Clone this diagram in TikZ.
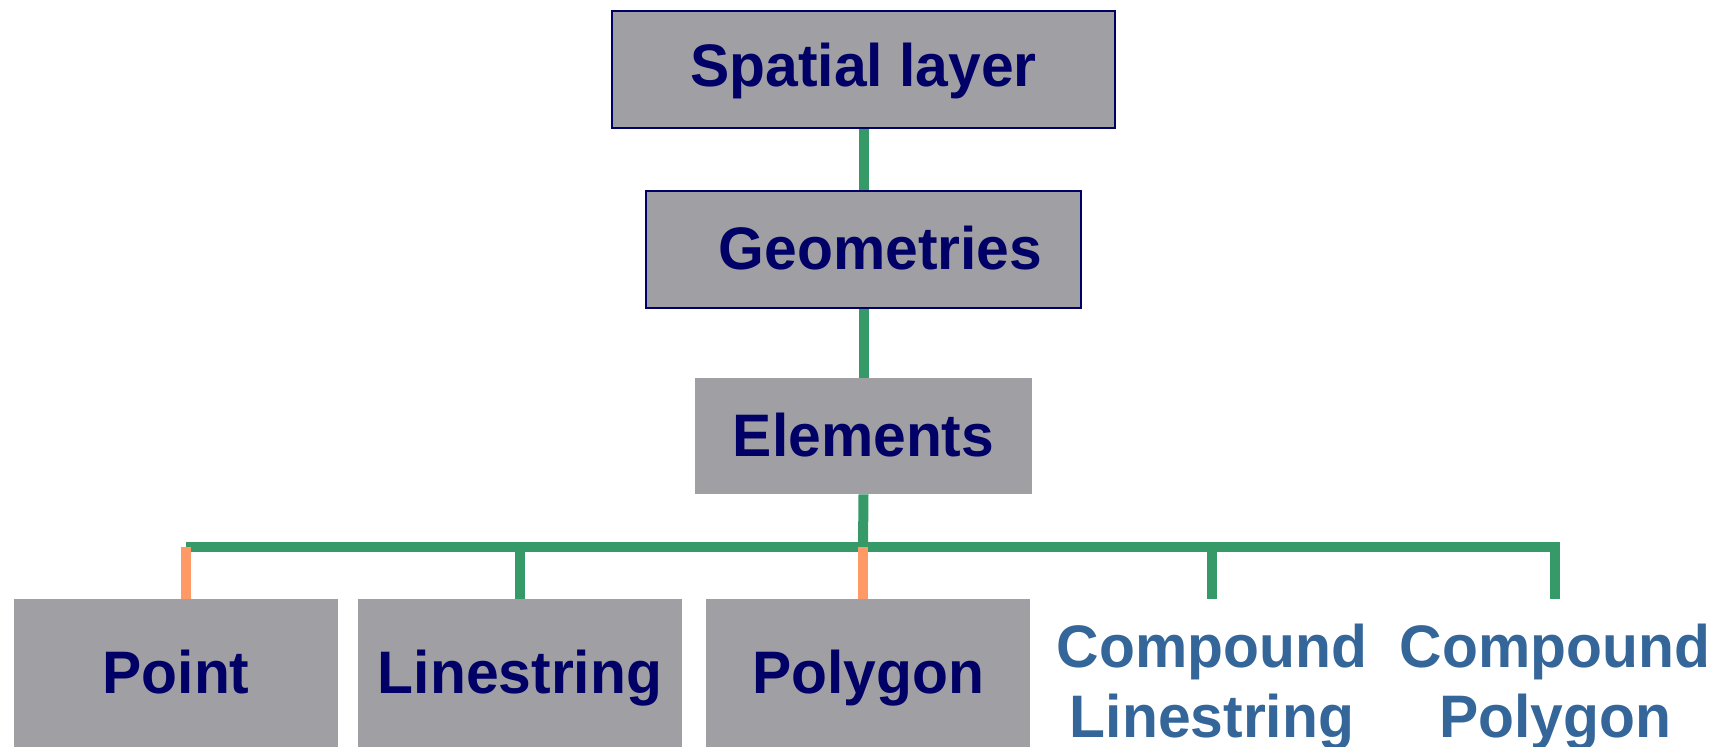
\documentclass[tikz,border=0pt]{standalone}
\usepackage{fontspec}
\setmainfont[FakeStretch=0.98]{Liberation Sans}
\definecolor{boxgray}{RGB}{160,159,164}
\definecolor{navy}{RGB}{0,0,102}
\definecolor{linkgreen}{RGB}{54,153,104}
\definecolor{linkorange}{RGB}{255,153,102}
\definecolor{leafblue}{RGB}{52,102,153}

\begin{document}
\begin{tikzpicture}[x=0.5pt, y=-0.5pt,
    box/.style={rectangle, fill=boxgray, inner sep=0pt, text=navy,
        font=\bfseries\fontsize{30}{35}\selectfont, text height=22pt, text depth=2pt},
    framed/.style={box, draw=navy, line width=0.75pt},
    leaf/.style={align=center, anchor=north, inner sep=0pt, text=leafblue,
        font=\bfseries\fontsize{30}{35}\selectfont},
    link/.style={draw=linkgreen, line width=5pt},
    hot/.style={draw=linkorange, line width=5pt}]
    \useasboundingbox (0,0) rectangle (1721,746);
    % Upper levels
    \node[framed, minimum width=251.5pt, minimum height=58.5pt] (spatial) at (863.5,69.5) {\raisebox{1.5pt}{Spatial layer}};
    \node[framed, minimum width=217.5pt, minimum height=58.5pt] (geometries) at (863.5,249.5) {\hspace*{17pt}Geometries};
    \node[box, minimum width=168.5pt, minimum height=58pt] (elements) at (863.5,436) {Elements};
    % Element types
    \node[box, minimum width=162pt, minimum height=74pt] (point) at (176,673) {Point};
    \node[box, minimum width=162pt, minimum height=74pt] (linestring) at (520,673) {Linestring};
    \node[box, minimum width=162pt, minimum height=74pt] (polygon) at (868,673) {Polygon};
    \node[leaf] (cline) at (1212,624) {Compound\\Linestring};
    \node[leaf] (cpoly) at (1555,624) {Compound\\Polygon};
    % Vertical links
    \draw[link] (spatial.south) -- (geometries.north);
    \draw[link] (geometries.south) -- (elements.north);
    \coordinate (bus) at (863,547);
    \draw[link] (elements.south) -- (bus);
    % Bus and drops
    \draw[link] ([xshift=5pt]point.north |- bus) -- (cpoly.north |- bus) -- (cpoly.north |- point.north);
    \draw[link] (linestring.north |- bus) -- (linestring.north);
    \draw[link] (cline.north |- bus) -- (cline.north |- point.north);
    \draw[hot] ([xshift=5pt]point.north |- bus) -- ([xshift=5pt]point.north);
    \draw[hot] (bus) -- (bus |- polygon.north);
\end{tikzpicture}
\end{document}
